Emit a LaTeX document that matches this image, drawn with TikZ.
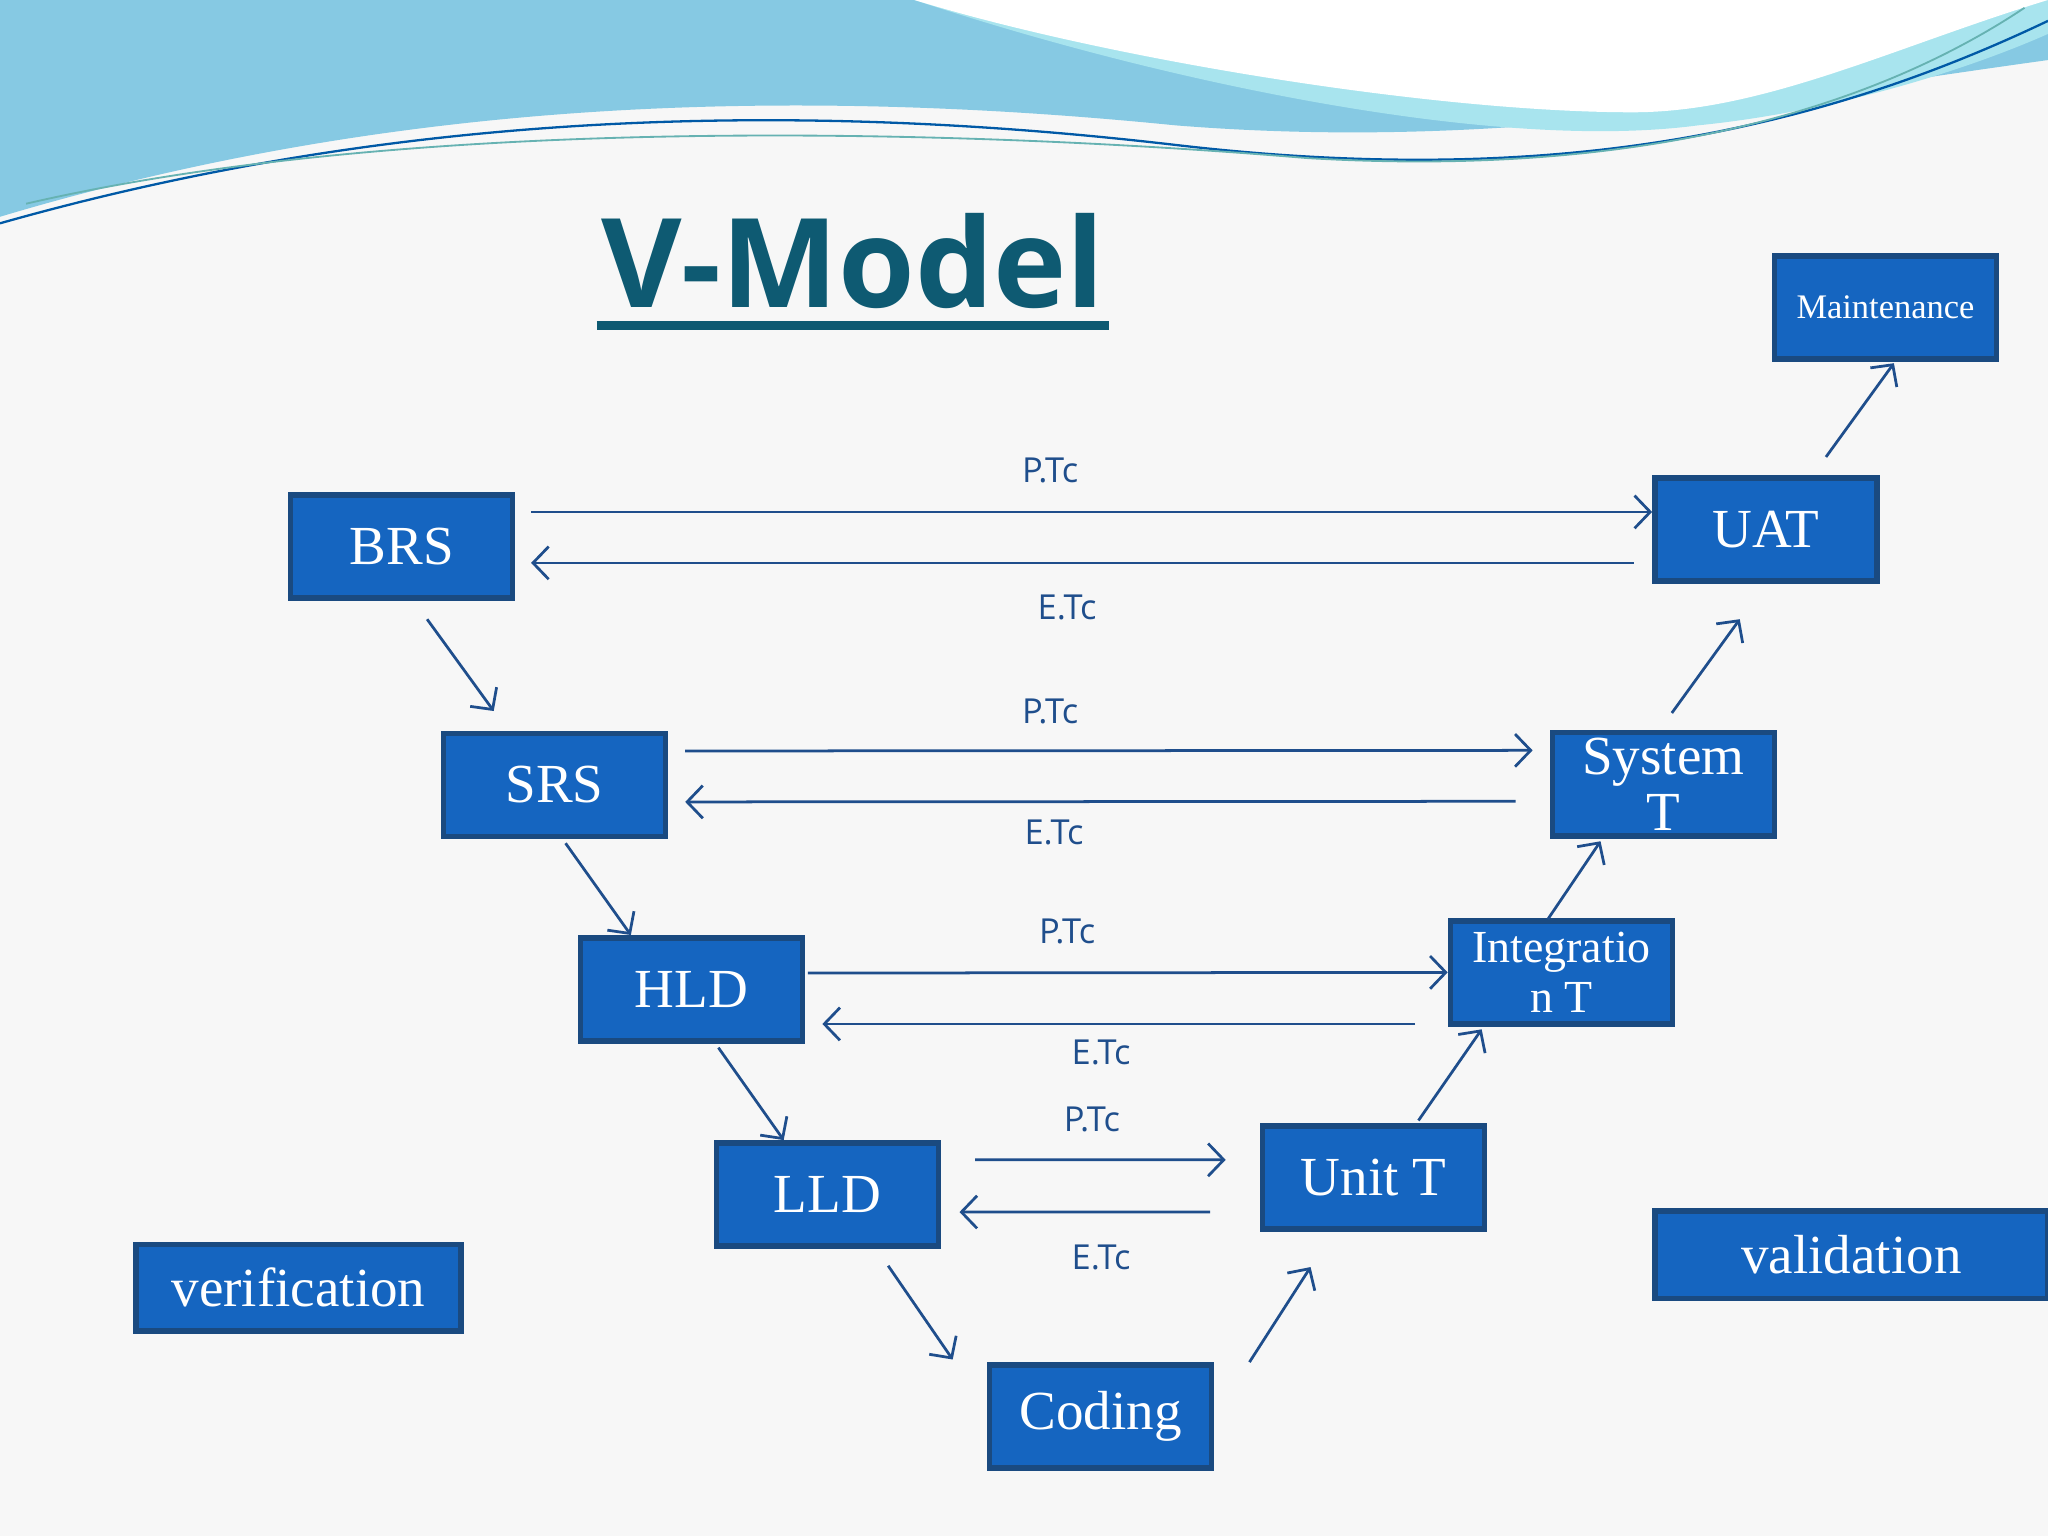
\documentclass[tikz,border=0pt]{standalone}
\usepackage{fontspec}
\setmainfont{Liberation Serif}
\newfontfamily\titlefont{Open Sans}
\usetikzlibrary{positioning,calc,arrows.meta}
\definecolor{boxblue}{HTML}{1565C0}
\definecolor{boxedge}{HTML}{1A4A80}
\definecolor{linkblue}{HTML}{1F4E8C}
\definecolor{titleteal}{HTML}{0E5A72}
\definecolor{wave}{HTML}{86C9E3}
\definecolor{wavelight}{HTML}{A8E4EE}
\tikzset{
  stage/.style={draw=boxedge,line width=1.2pt,fill=boxblue,text=white,
    minimum width=1.7cm,minimum height=0.79cm,inner sep=1pt,align=center,font=\fontsize{12}{12}\selectfont},
  link/.style={draw=linkblue,line width=0.6pt,-{Straight Barb[length=1.2mm,width=2.5mm]}},
  tag/.style={text=linkblue,font=\titlefont\fontsize{7.5}{8}\selectfont}
}
\begin{document}
\begin{tikzpicture}
\useasboundingbox (0,0) rectangle (15.68,11.76);
\fill[black!3] (0,0) rectangle (15.68,11.76);
% top waves
\fill[wave] (0,11.76) -- (0,10.1) .. controls (3,11) and (6,11.1) .. (9,10.8)
  .. controls (11.5,10.6) and (13.5,11.0) .. (15.68,11.3) -- (15.68,11.76) -- cycle;
\fill[wavelight] (7,11.76) .. controls (9,11.1) and (11.5,10.6) .. (13,10.8)
  .. controls (14,10.9) and (15,11.2) .. (15.68,11.5) -- (15.68,11.76) -- cycle;
\fill[white] (7,11.76) .. controls (8.5,11.3) and (11,10.9) .. (12.5,10.9)
  .. controls (13.5,10.9) and (14.5,11.4) .. (15.68,11.76) -- cycle;
\draw[teal!70!blue,line width=0.5pt] (0,10.05) .. controls (3,10.9) and (6,11.0) .. (9,10.65)
  .. controls (12,10.3) and (14,10.8) .. (15.68,11.6);
\draw[teal!60,line width=0.4pt] (0.2,10.2) .. controls (3,10.85) and (7,10.8) .. (10,10.55)
  .. controls (12.5,10.4) and (14.3,10.9) .. (15.5,11.7);

% title
\node[text=titleteal,font=\titlefont\bfseries\fontsize{27}{27}\selectfont,inner sep=0pt] (title) at (6.53,9.76) {V-Model};
\draw[titleteal,line width=2pt] (4.57,9.27) -- (8.49,9.27);

% stages
\node[stage] (BRS) at (3.075,7.575) {BRS};
\node[stage] (SRS) at (4.245,5.75) {SRS};
\node[stage] (HLD) at (5.295,4.185) {HLD};
\node[stage] (LLD) at (6.335,2.615) {LLD};
\node[stage] (Coding) at (8.425,0.915) {Coding};
\node[stage] (UnitT) at (10.515,2.745) {Unit T};
\node[stage,font=\fontsize{10}{11}\selectfont] (IntT) at (11.955,4.315) {Integratio\\n T};
\node[stage,font=\fontsize{12}{12}\selectfont] (SysT) at (12.735,5.755) {System\\T};
\node[stage] (UAT) at (13.52,7.705) {UAT};
\node[stage,font=\fontsize{7.5}{8}\selectfont] (Maint) at (14.435,9.405) {Maintenance};
\node[stage,minimum width=2.49cm,minimum height=0.66cm] (verif) at (2.285,1.9) {verification};
\node[stage,minimum width=3.01cm,minimum height=0.67cm] (valid) at (14.175,2.155) {validation};

% P.Tc / E.Tc pairs
\draw[link,shorten <=0.12cm] ([yshift=0.265cm]BRS.east) -- ([yshift=0.135cm]UAT.west);
\draw[link,shorten <=0.14cm,shorten >=0.12cm] ([yshift=-0.255cm]UAT.west) -- ([yshift=-0.125cm]BRS.east);
\draw[link,shorten <=0.13cm,shorten >=0.13cm] ([yshift=0.26cm]SRS.east) -- ([yshift=0.26cm]SysT.west);
\draw[link,shorten <=0.26cm,shorten >=0.13cm] ([yshift=-0.13cm]SysT.west) -- ([yshift=-0.13cm]SRS.east);
\draw[link,shorten <=0.02cm] ([yshift=0.125cm]HLD.east) -- (IntT.west);
\draw[link,shorten <=0.25cm,shorten >=0.13cm] ([yshift=-0.395cm]IntT.west) -- ([yshift=-0.265cm]HLD.east);
\draw[link,shorten <=0.26cm,shorten >=0.26cm] ([yshift=0.265cm]LLD.east) -- ([yshift=0.135cm]UnitT.west);
\draw[link,shorten <=0.38cm,shorten >=0.14cm] ([yshift=-0.265cm]UnitT.west) -- ([yshift=-0.135cm]LLD.east);

\node[tag] (p1) at (8.04,8.16) {P.Tc};
\node[tag] (e1) at (8.17,7.11) {E.Tc};
\node[tag] (p2) at (8.04,6.31) {P.Tc};
\node[tag] (e2) at (8.07,5.39) {E.Tc};
\node[tag] (p3) at (8.17,4.63) {P.Tc};
\node[tag] (e3) at (8.43,3.70) {E.Tc};
\node[tag] (p4) at (8.36,3.19) {P.Tc};
\node[tag] (e4) at (8.43,2.13) {E.Tc};

% V legs
\draw[link] ([shift={(0.195,-0.14)}]BRS.south) -- ([shift={(-0.465,0.15)}]SRS.north);
\draw[link] ([shift={(0.085,-0.03)}]SRS.south) -- ([shift={(-0.465,0)}]HLD.north);
\draw[link] ([shift={(0.205,-0.03)}]HLD.south) -- ([shift={(-0.335,0)}]LLD.north);
\draw[link] ([shift={(0.465,-0.13)}]LLD.south) -- ([shift={(-0.26,0.02)}]Coding.north west);
\draw[link] ([shift={(0.27,0)}]Coding.north east) -- ([shift={(0.39,-0.27)}]UnitT.south west);
\draw[link] ([shift={(0.345,0.02)}]UnitT.north) -- ([shift={(0.26,-0.02)}]IntT.south west);
\draw[link] ([shift={(-0.105,-0.01)}]IntT.north) -- ([shift={(0.39,-0.02)}]SysT.south west);
\draw[link] ([shift={(0.065,0.13)}]SysT.north) -- ([shift={(-0.2,-0.27)}]UAT.south);
\draw[link] ([shift={(0.46,0.14)}]UAT.north) -- ([shift={(0.065,-0.01)}]Maint.south);
\end{tikzpicture}
\end{document}
